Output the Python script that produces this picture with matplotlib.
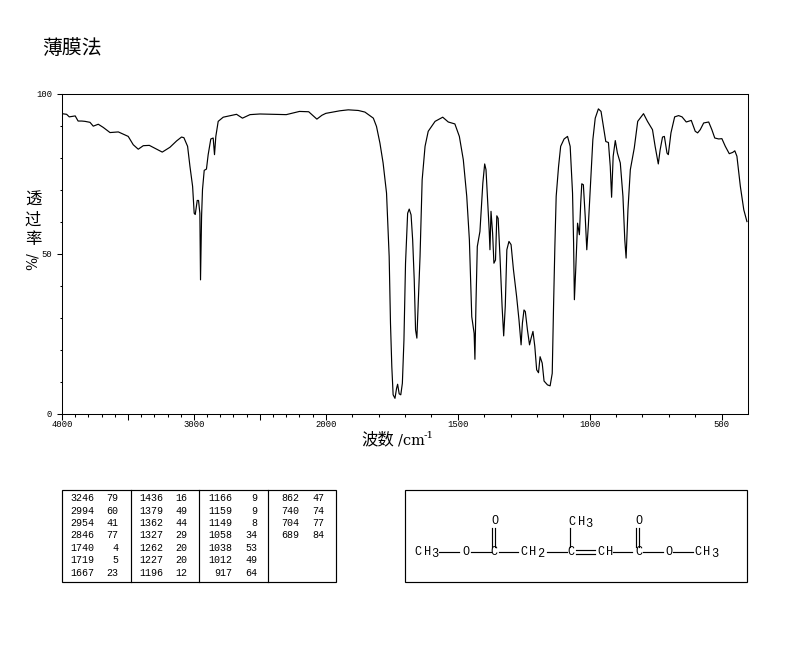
import matplotlib
matplotlib.use("Agg")
import matplotlib.pyplot as plt
import numpy as np

plt.rcParams['font.family'] = ['Noto Sans CJK SC', 'DejaVu Sans']

# spectrum: wavenumber (cm-1) and transmittance (%)
wavenumber = [
    4000, 3965, 3945, 3900, 3878, 3850, 3826, 3788, 3763, 3725, 3687, 3636, 3573, 3498, 3460, 3422,
    3384, 3338, 3283, 3240, 3182, 3131, 3094, 3076, 3048, 3030, 3010, 2998, 2990, 2975, 2965, 2955,
    2950, 2942, 2935, 2922, 2905, 2892, 2872, 2854, 2844, 2834, 2816, 2778, 2677, 2632, 2575, 2500,
    2400, 2300, 2200, 2130, 2068, 2030, 2000, 1947, 1915, 1877, 1852, 1820, 1808, 1795, 1783, 1770,
    1760, 1755, 1750, 1745, 1738, 1732, 1728, 1722, 1716, 1710, 1704, 1698, 1690, 1684, 1677, 1671,
    1665, 1660, 1655, 1650, 1643, 1635, 1624, 1612, 1586, 1557, 1536, 1511, 1494, 1479, 1466, 1456,
    1447, 1438, 1435, 1431, 1426, 1416, 1405, 1398, 1393, 1385, 1381, 1378, 1374, 1368, 1363, 1357,
    1352, 1347, 1340, 1332, 1326, 1320, 1314, 1306, 1298, 1289, 1277, 1268, 1260, 1255, 1249, 1244,
    1236, 1228, 1222, 1215, 1208, 1201, 1194, 1188, 1180, 1173, 1160, 1150, 1142, 1137, 1132, 1127,
    1118, 1110, 1097, 1084, 1074, 1065, 1061, 1058, 1053, 1046, 1039, 1034, 1030, 1024, 1017, 1011,
    1005, 998, 988, 979, 967, 957, 948, 939, 929, 922, 917, 911, 903, 895, 884, 874,
    867, 862, 855, 846, 831, 818, 796, 781, 762, 752, 740, 733, 724, 717, 707, 702,
    692, 678, 663, 650, 634, 615, 600, 591, 581, 568, 549, 537, 526, 511, 499, 486,
    471, 458, 450, 442, 429, 416, 404,
]
transmittance = [
    93.7, 93.5, 92.7, 93.0, 91.4, 91.4, 91.3, 91.0, 89.8, 90.4, 89.4, 87.8, 88.0, 86.6, 84.0, 82.6,
    83.7, 83.8, 82.6, 81.7, 83.2, 85.2, 86.4, 86.2, 83.5, 77.2, 71.0, 62.6, 62.2, 66.6, 66.6, 62.6,
    41.8, 61.6, 70.0, 76.0, 76.4, 80.9, 85.8, 86.1, 80.9, 86.6, 91.3, 92.6, 93.5, 92.3, 93.4, 93.6,
    93.5, 93.4, 94.4, 94.3, 92.0, 93.2, 93.8, 94.6, 94.9, 94.7, 94.2, 92.3, 89.7, 84.5, 78.3, 68.9,
    49.1, 28.2, 14.7, 5.9, 4.8, 7.9, 9.2, 6.2, 5.9, 9.5, 23.0, 47.0, 62.6, 63.9, 62.1, 54.3,
    41.8, 26.2, 23.6, 34.5, 49.1, 73.0, 83.5, 88.2, 91.3, 92.6, 91.1, 90.5, 86.6, 79.3, 67.9, 54.3,
    30.3, 25.1, 17.0, 34.5, 52.2, 56.9, 72.0, 78.0, 76.2, 63.7, 57.4, 51.2, 63.2, 56.4, 47.0, 48.0,
    61.8, 61.0, 49.1, 33.5, 24.3, 33.5, 51.2, 53.8, 52.8, 45.0, 36.6, 29.3, 21.5, 28.3, 32.4, 31.9,
    26.2, 21.5, 23.6, 25.7, 21.0, 13.7, 12.8, 17.8, 15.8, 10.2, 9.0, 8.7, 12.6, 33.5, 52.2, 67.9,
    77.2, 83.5, 85.8, 86.6, 83.5, 68.9, 53.3, 35.6, 44.9, 59.5, 55.9, 65.8, 71.8, 71.5, 61.6, 51.2,
    59.0, 69.9, 85.6, 92.3, 95.2, 94.4, 89.7, 85.0, 84.7, 77.2, 67.6, 80.4, 85.3, 81.4, 78.3, 67.9,
    54.3, 48.6, 63.7, 76.2, 83.0, 91.3, 93.7, 91.3, 88.7, 83.5, 78.0, 82.4, 86.4, 86.6, 81.4, 80.9,
    87.7, 92.7, 93.1, 92.7, 91.1, 91.6, 88.2, 87.7, 88.7, 90.8, 91.1, 88.7, 86.1, 85.8, 85.9, 83.5,
    81.2, 81.6, 82.1, 80.4, 71.0, 63.7, 60.0,
]

# peak table, one list per column
peak_columns = [
    [("3246", "79"), ("2994", "60"), ("2954", "41"), ("2846", "77"), ("1740", "4"), ("1719", "5"), ("1667", "23")],
    [("1436", "16"), ("1379", "49"), ("1362", "44"), ("1327", "29"), ("1262", "20"), ("1227", "20"), ("1196", "12")],
    [("1166", "9"), ("1159", "9"), ("1149", "8"), ("1058", "34"), ("1038", "53"), ("1012", "49"), ("917", "64")],
    [("862", "47"), ("740", "74"), ("704", "77"), ("689", "84")],
]
x_labelled = [4000, 3000, 2000, 1500, 1000, 500]
x_major = [4000, 3500, 3000, 2500, 2000, 1500, 1000, 500]
x_minor = [w for w in range(3900, 400, -100) if w not in x_major]
y_major = [0, 50, 100]
y_minor = [10, 20, 30, 40, 60, 70, 80, 90]
MONO = "Liberation Mono"


def to_scale(w):
    # the axis is compressed by two above 2000 cm-1
    w = np.asarray(w, dtype=float)
    return np.where(w > 2000, 2000 + (w - 2000) / 2, w)


def from_scale(u):
    u = np.asarray(u, dtype=float)
    return np.where(u > 2000, 2000 + (u - 2000) * 2, u)


W, H = 794, 652
fig = plt.figure(figsize=(W / 100, H / 100), dpi=100)

# overlay in pixel coordinates for the table, the structure and the labels
page = fig.add_axes([0, 0, 1, 1])
page.set_xlim(0, W)
page.set_ylim(H, 0)
page.axis("off")

ax = fig.add_axes([62 / W, (H - 413.7) / H, (748 - 62) / W, (413.7 - 93.5) / H])
ax.set_xscale("function", functions=(to_scale, from_scale))
ax.plot(wavenumber, transmittance, color="black", lw=0.85)
ax.set_xlim(4000, 400)
ax.set_ylim(0, 100)
ax.set_xticks(x_major)
ax.set_xticks(x_minor, minor=True)
ax.set_yticks(y_major)
ax.set_yticks(y_minor, minor=True)
ax.set_xticklabels([str(v) if v in x_labelled else "" for v in x_major], family=MONO, fontsize=6.4)
ax.set_yticklabels([str(v) for v in y_major], family=MONO, fontsize=6.4)
ax.tick_params(axis="x", which="major", length=4.3, width=0.75, pad=0.5)
ax.tick_params(axis="y", which="major", length=3.6, width=0.75, pad=3.4)
ax.tick_params(which="minor", length=1.8, width=0.75)
for s in ax.spines.values():
    s.set_linewidth(0.75)

page.text(42, 49, "薄膜法", fontsize=14.3, va="center", ha="left")
page.text(361, 440, "波数", fontsize=11.8, va="center", ha="left")
page.text(398, 440, "/cm", family="DejaVu Serif", fontsize=10.5, va="center", ha="left")
page.text(424, 436, "-1", family="DejaVu Serif", fontsize=7.5, va="center", ha="left")
for ch, y in zip("透过率", [200.5, 220, 239.5]):
    page.text(33, y, ch, fontsize=11.8, va="center", ha="center")
page.text(33, 261, "%/", family="DejaVu Serif", fontsize=10, va="center", ha="center", rotation=90)

# peak table
page.add_patch(plt.Rectangle((61.5, 489.5), 274, 92, fill=False, lw=0.85, ec="black"))
for x in [130.5, 198.5, 267.5]:
    page.plot([x, x], [489.5, 581.5], color="black", lw=0.85)
num_right = [94.5, 163, 232, 299.5]
val_right = [118.5, 187.5, 257, 324]
for col, xn, xv in zip(peak_columns, num_right, val_right):
    for i, (num, val) in enumerate(col):
        y = 498.3 + i * 12.4
        page.text(xn, y, num, family=MONO, fontsize=7.2, ha="right", va="center")
        page.text(xv, y, val, family=MONO, fontsize=7.2, ha="right", va="center")

# structure box
page.add_patch(plt.Rectangle((404.5, 489.5), 342.5, 92, fill=False, lw=0.85, ec="black"))
atoms = [
    (418, 552, "C"), (427.5, 552, "H"), (434.5, 554, "3"),
    (465.7, 552, "O"), (494, 552, "C"),
    (524, 552, "C"), (533, 552, "H"), (540.5, 554, "2"),
    (571, 552, "C"), (601, 552, "C"), (610, 552, "H"),
    (639, 552, "C"), (668.7, 552, "O"),
    (697.7, 552, "C"), (707, 552, "H"), (714.7, 554, "3"),
    (495, 520.7, "O"), (639, 520.7, "O"),
    (571.7, 521.7, "C"), (581.7, 521.7, "H"), (589, 524, "3"),
]
for x, y, ch in atoms:
    page.text(x, y, ch, family=MONO, fontsize=8.6, ha="center", va="center")
bonds = [
    (439, 459, 551.7, 551.7), (470.7, 490.7, 551.7, 551.7), (499, 518, 551.7, 551.7),
    (546.7, 566.7, 551.7, 551.7), (613, 632, 551.7, 551.7), (643, 663, 551.7, 551.7),
    (673, 692.7, 551.7, 551.7),
    (569.5, 569.5, 528, 547), (575.7, 595, 550, 550), (575.7, 595, 554, 554),
    (491.7, 491.7, 528, 546.7), (495, 495, 528, 546.7), (636, 636, 528, 546.7), (638.7, 638.7, 528, 546.7),
]
for x0, x1, y0, y1 in bonds:
    page.plot([x0, x1], [y0, y1], color="black", lw=0.85)

fig.savefig("out.png", dpi=100)
